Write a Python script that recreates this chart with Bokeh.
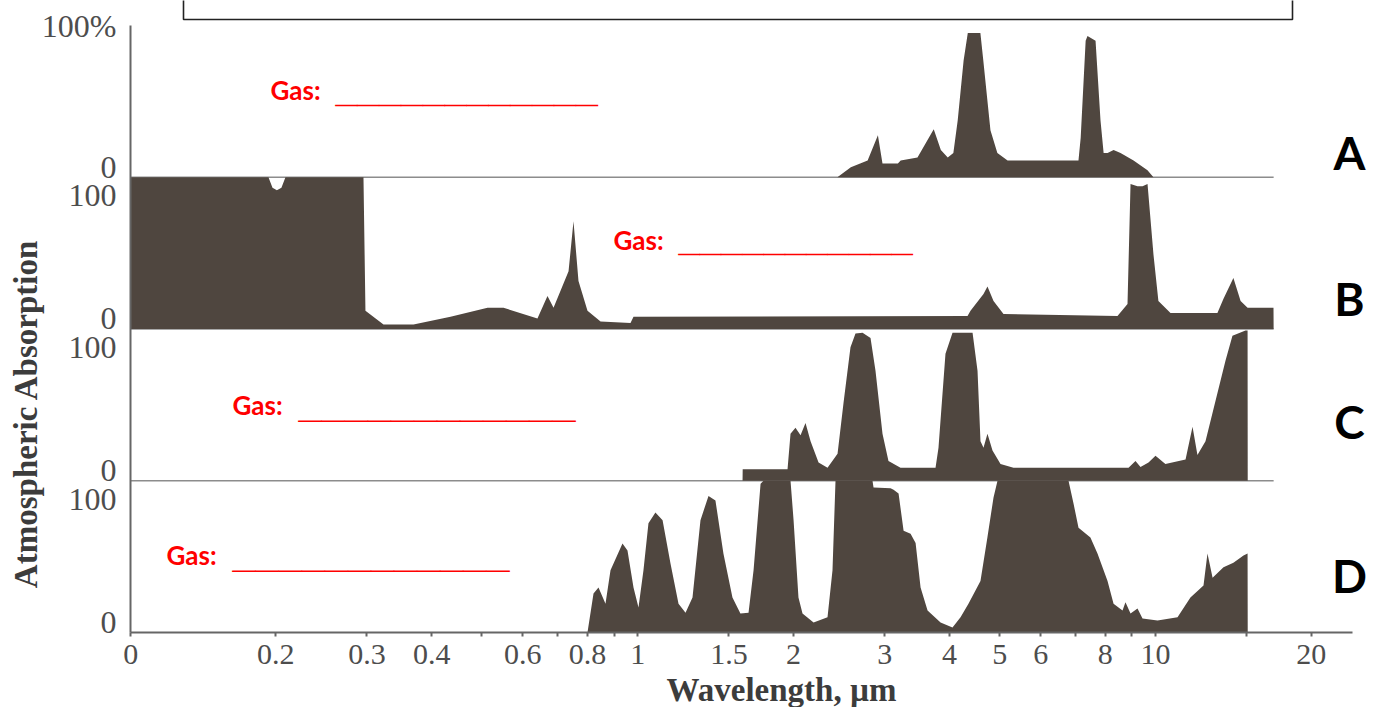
import numpy as np
from bokeh.plotting import figure
from bokeh.models import FixedTicker, Label, Range1d
from bokeh.embed import file_html
from bokeh.resources import INLINE

# ---------------- data (wavelength in µm, absorption in %) ----------------
a_wl = [2.43, 2.58, 2.78, 2.91, 2.97, 3.18, 3.22, 3.47, 3.73, 3.85, 3.97, 4.07, 4.15, 4.26, 4.34,
        4.59, 4.65, 4.80, 4.95, 5.18, 7.10, 7.17, 7.33, 7.39, 7.66, 7.83, 7.94, 8.08, 8.30, 8.56,
        9.07, 9.65, 9.91]
a_abs = [0, 6.6, 11, 27.7, 9, 9, 11, 13, 31.6, 18, 13, 16, 37.6, 77, 95,
         95, 77, 31, 16, 11, 11, 26, 90, 93, 90, 37.6, 16, 16, 18, 16,
         11, 4.6, 0]

b_wl = [0.105, 0.1936, 0.1971, 0.2010, 0.2051, 0.2088, 0.2954, 0.2980, 0.3229, 0.369, 0.435,
        0.5128, 0.5506, 0.6403, 0.6695, 0.6878, 0.7353, 0.7516, 0.7685, 0.7999, 0.8477,
        0.9685, 0.9815, 4.335, 4.393, 4.654, 4.737, 4.866, 5.087, 8.445, 8.830,
        8.949, 9.231, 9.439, 9.652, 9.911, 10.13, 10.69, 13.17, 13.53, 14.14,
        14.60, 15.06, 16.90, 16.91]
b_abs = [100, 100, 93, 91.5, 93, 100, 100, 12, 3, 3, 8,
         14, 14, 7, 21.7, 14, 38, 71, 31.6, 12, 5,
         4, 8, 8.6, 12, 23, 28, 18.5, 9.9, 8.6, 16.5,
         95.5, 94, 94, 95.5, 49, 18.5, 10.5, 10.5, 20, 33.6,
         18.5, 14, 14, 0]

c_wl = [1.594, 1.595, 1.947, 1.973, 2.017, 2.063, 2.109, 2.157, 2.235, 2.326,
        2.432, 2.497, 2.576, 2.634, 2.718, 2.816, 2.879, 2.970, 3.050, 3.218,
        3.760, 3.810, 3.930, 4.055, 4.433, 4.532, 4.592, 4.654, 4.737, 4.844,
        5.020, 5.318, 8.870, 9.149, 9.355, 9.694, 10.00, 10.45, 11.43, 11.79,
        12.05, 12.49, 13.06, 13.65, 14.08, 14.92, 15.06, 15.07]
c_abs = [0, 7.5, 7.5, 31, 35, 30, 38, 26, 12, 8.6,
         17.8, 51, 88, 97, 97.5, 94, 72.5, 31, 13, 8.6,
         8.6, 21.7, 83.7, 97.5, 97.5, 72.5, 26, 21.7, 31, 20,
         11, 8.6, 8.6, 13, 9, 12, 16.5, 11, 14, 35.6,
         17, 26, 52.7, 79, 95.5, 99, 99, 0]

d_wl = [0.7999, 0.8216, 0.840, 0.8666, 0.8861, 0.9346, 0.9556, 0.9815, 1.0035, 1.026,
        1.049, 1.082, 1.117, 1.157, 1.199, 1.237, 1.276, 1.322, 1.370, 1.413,
        1.464, 1.524, 1.579, 1.637, 1.674, 1.727, 1.750, 1.973, 2.000, 2.044,
        2.081, 2.186, 2.326, 2.378, 2.410, 2.841, 2.854, 3.078, 3.120, 3.190,
        3.262, 3.365, 3.441, 3.518, 3.629, 3.845, 4.055, 4.202, 4.353, 4.592,
        4.737, 4.866, 4.953, 6.792, 6.945, 7.101, 7.487, 7.726, 8.079, 8.298,
        8.636, 8.750, 8.949, 9.231, 9.439, 10.09, 11.03, 11.68, 12.38, 12.60,
        12.89, 13.53, 14.14, 14.79, 15.06, 15.07]
d_abs = [0, 25.7, 29.7, 19, 41, 58.7, 54, 29.7, 16.5, 41,
         72, 79, 74, 45.5, 19, 13, 23, 74, 90, 87,
         52, 23, 12.5, 13, 41, 98, 100, 100, 74, 23,
         12.5, 6.6, 10, 41, 100, 100, 95.5, 95, 94, 91.6,
         67, 65, 59, 29.7, 14.5, 6.6, 3.3, 10, 19, 34,
         63, 89, 100, 100, 85, 69, 62.6, 52, 34, 19,
         14.5, 20, 12.5, 15.8, 9.2, 7.9, 10, 23, 31, 52,
         36, 43, 46, 50.7, 52, 0]

panel_names = ["A", "B", "C", "D"]
x_tick_values = [0.105, 0.2, 0.3, 0.4, 0.6, 0.8, 1, 1.5, 2, 3, 4, 5, 6, 8, 10, 20]
x_tick_labels = ["0", "0.2", "0.3", "0.4", "0.6", "0.8", "1", "1.5", "2", "3", "4", "5", "6", "8", "10", "20"]
x_minor_values = [0.5, 0.7, 0.9, 7, 9, 15]
y_zero_label = "0"
y_full_labels = ["100%", "100", "100", "100"]
x_title = "Wavelength, µm"
y_title = "Atmospheric Absorption"
gas_prompt = "Gas:"

# ---------------- layout ----------------
W, H = 1369, 707
PX0, PX_DEC = 637.2, 517.8        # canvas x of 1 µm, pixels per decade
PY0, PX_UNIT = 632.0, 1.5175      # canvas y of the bottom baseline, pixels per % unit
PANEL = 100.0
bases = [3 * PANEL, 2 * PANEL, PANEL, 0.0]          # A, B, C, D baselines
FILL = "#4f463f"
AX_X0, AX_X1 = 0.1048, 24.0


def at(px, py):
    """canvas pixel -> data coordinates (for annotation placement)"""
    return 10 ** ((px - PX0) / PX_DEC), (PY0 - py) / PX_UNIT


x_start, y_end = at(0, 0)
x_end, y_start = at(W, H)

p = figure(width=W, height=H, x_axis_type="log",
           x_range=Range1d(x_start, x_end), y_range=Range1d(y_start, y_end),
           output_backend="svg", toolbar_location=None,
           min_border=0, min_border_left=0, min_border_right=0,
           min_border_top=0, min_border_bottom=0)
p.outline_line_color = None
p.grid.visible = False
p.background_fill_color = "white"
p.border_fill_color = "white"

# worksheet box at the top
bx0, by0 = at(183, 19)
bx1, _ = at(1292, 19)
p.quad(left=[bx0], right=[bx1], bottom=[by0], top=[y_end + 30], fill_color=None,
       line_color="#222222", line_width=1.6)

# panel separator lines
line_end = b_wl[-1]
p.segment(x0=[AX_X0] * 3, x1=[line_end] * 3, y0=bases[:3], y1=bases[:3],
          line_color="#8c8c8c", line_width=1.6)

series = [(a_wl, a_abs), (b_wl, b_abs), (c_wl, c_abs), (d_wl, d_abs)]
for (wl, ab), base in zip(series, bases):
    wl = np.array(wl, dtype=float)
    ab = np.array(ab, dtype=float)
    p.varea(x=wl, y1=np.full_like(ab, base), y2=base + ab, fill_color=FILL)

# axes (kept in their side panels, drawn at fixed data locations)
p.xaxis.fixed_location = 0.0
p.yaxis.fixed_location = AX_X0
p.xaxis.ticker = FixedTicker(ticks=x_tick_values, minor_ticks=x_minor_values)
p.xaxis.major_label_overrides = {v: s for v, s in zip(x_tick_values, x_tick_labels)}
p.xaxis.bounds = (AX_X0, AX_X1)
p.xaxis.axis_line_color = "#666666"
p.xaxis.axis_line_width = 2
p.xaxis.major_tick_line_color = "#666666"
p.xaxis.major_tick_line_width = 2
p.xaxis.major_tick_out = 4
p.xaxis.major_tick_in = 0
p.xaxis.minor_tick_line_color = "#666666"
p.xaxis.minor_tick_line_width = 2
p.xaxis.minor_tick_out = 4
p.xaxis.minor_tick_in = 0
p.xaxis.major_label_standoff = 8
p.xaxis.major_label_text_font = "Liberation Serif"
p.xaxis.major_label_text_font_size = "30px"
p.xaxis.major_label_text_color = "#4d4d4d"

y_ticks, y_labels = [], []
for base, full in zip(bases, y_full_labels):
    y_ticks.append(base + 7.0)
    y_labels.append(y_zero_label)
    y_ticks.append(base + (PANEL if full.endswith("%") else 88.0))
    y_labels.append(full)
p.yaxis.ticker = FixedTicker(ticks=y_ticks)
p.yaxis.major_label_overrides = {v: s for v, s in zip(y_ticks, y_labels)}
p.yaxis.bounds = (0, 4 * PANEL)
p.yaxis.axis_line_color = "#666666"
p.yaxis.axis_line_width = 2
p.yaxis.major_tick_out = 0
p.yaxis.major_tick_in = 0
p.yaxis.minor_tick_out = 0
p.yaxis.minor_tick_in = 0
p.yaxis.major_label_standoff = 14
p.yaxis.major_label_text_font = "Liberation Serif"
p.yaxis.major_label_text_font_size = "32px"
p.yaxis.major_label_text_color = "#4d4d4d"

# axis titles
tx, ty = at(781, 689)
p.add_layout(Label(x=tx, y=ty, text=x_title, text_font="Liberation Serif",
                   text_font_style="bold", text_font_size="33px", text_color="#3c3c3c",
                   text_align="center", text_baseline="middle"))
yx, yy = at(25, 413)
p.add_layout(Label(x=yx, y=yy, text=y_title, text_font="Liberation Serif", angle=np.pi / 2,
                   text_font_style="bold", text_font_size="33px", text_color="#3c3c3c",
                   text_align="center", text_baseline="middle"))

# panel letters
for name, py in zip(panel_names, [152, 298, 421, 575]):
    lx, ly = at(1349, py)
    p.add_layout(Label(x=lx, y=ly, text=name, text_font="Lato", text_font_style="bold",
                       text_font_size="46px", text_color="black",
                       text_align="center", text_baseline="middle"))

# "Gas: ____" prompts  (label left, blank-line left, baseline, blank-line width, count)
gas_pos = [(270, 335, 100, 262, 12), (613, 678, 250, 234, 11),
           (232, 298, 415, 277, 12), (166, 232, 565, 277, 12)]
for gx, ux, gy, uw, n in gas_pos:
    x1_, y1_ = at(gx, gy - 11)
    x2_, y2_ = at(ux, gy - 13)
    p.add_layout(Label(x=x1_, y=y1_, text=gas_prompt, text_font="Lato", text_font_style="bold",
                       text_font_size="26px", text_color="#ff0000",
                       text_align="left", text_baseline="alphabetic"))
    fs = uw / (n * 0.556)
    p.add_layout(Label(x=x2_, y=y2_, text="_" * n, text_font="Liberation Sans",
                       text_font_style="bold", text_font_size=f"{fs:.1f}px", text_color="#ff0000",
                       text_align="left", text_baseline="alphabetic"))

open("out.html", "w").write(file_html(p, INLINE))
